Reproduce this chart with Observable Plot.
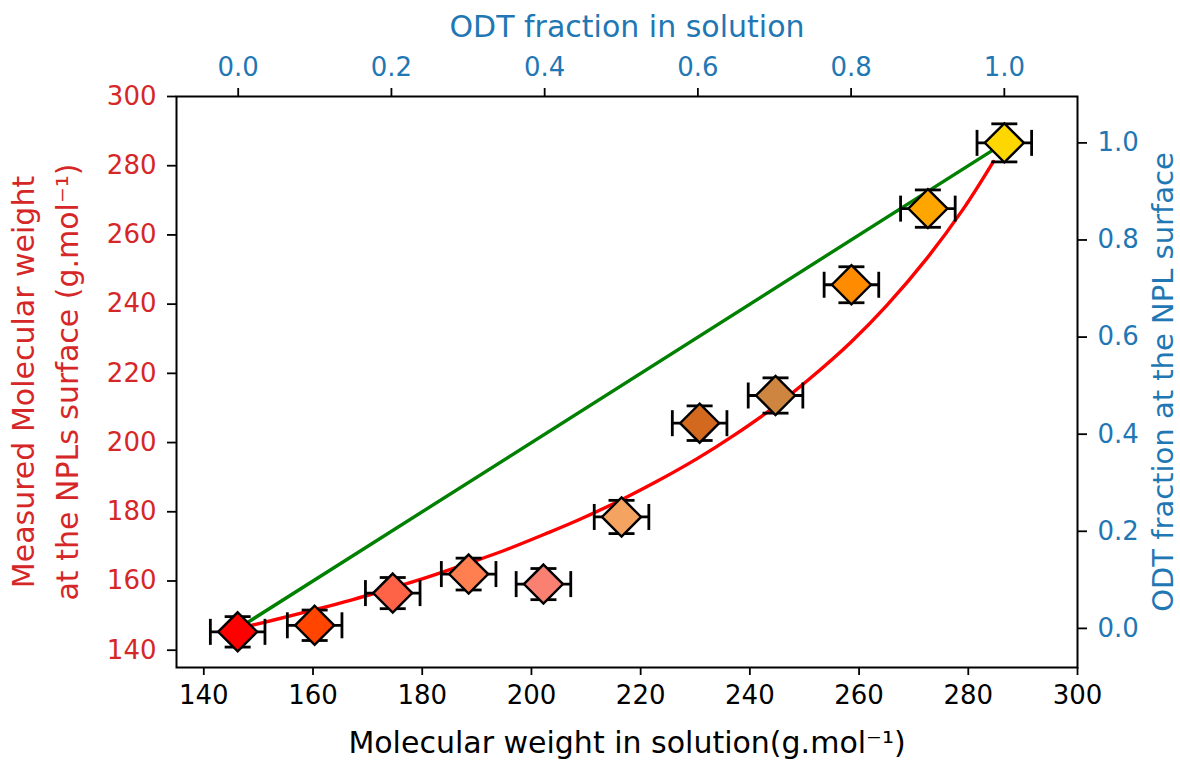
<!DOCTYPE html>
<html>
<head>
<meta charset="utf-8">
<script src="https://cdn.jsdelivr.net/npm/d3@7"></script>
<script src="https://cdn.jsdelivr.net/npm/@observablehq/plot@0.6"></script>
<style>
  html, body { margin: 0; padding: 0; background: #ffffff; }
  #chart { width: 1180px; height: 765px; }
</style>
</head>
<body>
<div id="chart"></div>
<script>
// ---- data ----
const odtFraction = [0.0, 0.1, 0.2, 0.3, 0.4, 0.5, 0.6, 0.7, 0.8, 0.9, 1.0];
const mwSolution  = [146.2, 160.3, 174.6, 188.5, 202.2, 216.5, 230.8, 244.7, 258.6, 272.6, 286.6];
const mwSurface   = [145.3, 147.2, 156.5, 162.0, 159.1, 178.5, 205.6, 213.6, 245.6, 267.6, 286.6];
const xErr        = [5.0, 5.0, 5.0, 5.0, 5.0, 5.0, 5.0, 5.0, 5.0, 5.0, 5.0];
const yErr        = [4.4, 4.4, 4.5, 4.6, 4.5, 4.8, 5.0, 5.1, 5.2, 5.4, 5.5];
const markerColors = ["#ff0000", "#ff4500", "#ff6347", "#ff7f50", "#fa8072", "#f4a460",
                      "#d2691e", "#cd853f", "#ff8c00", "#ffa500", "#ffd700"];

// red fitted curve
const fitX = [147.5, 153, 160.3, 167, 174.4, 181, 188.4, 195, 202.4, 209, 216.5,
              223, 230.5, 237, 244.5, 251, 258.5, 265, 272.6, 279, 284.6];
const fitY = [146.7, 148.8, 151.7, 154.5, 157.9, 161.1, 165.1, 168.8, 173.5, 177.9, 183.5,
              188.8, 195.5, 202.0, 210.3, 218.5, 229.0, 239.5, 253.6, 267.3, 281.2];

// green y = x reference line
const idealX = [146.3, 286.6];
const idealY = [146.3, 286.6];

// axes
const bottomTicks = [140, 160, 180, 200, 220, 240, 260, 280, 300];
const leftTicks   = [140, 160, 180, 200, 220, 240, 260, 280, 300];
const topTicks    = [0.0, 0.2, 0.4, 0.6, 0.8, 1.0];
const rightTicks  = [0.0, 0.2, 0.4, 0.6, 0.8, 1.0];
const MW_OT  = 146.3;   // fraction 0 on secondary axes
const MW_ODT = 286.6;   // fraction 1 on secondary axes

const xTitle = "Molecular weight in solution(g.mol\u207B\u00B9)";
const yTitle1 = "Measured Molecular weight";
const yTitle2 = "at the NPLs surface (g.mol\u207B\u00B9)";
const topTitle = "ODT fraction in solution";
const rightTitle = "ODT fraction at the NPL surface";

// ---- build ----
const RED_TXT = "#d62728";
const BLUE_TXT = "#1f77b4";
const FONT = "DejaVu Sans";
const TICK_FS = 26;
const TITLE_FS = 30;

const points = odtFraction.map((f, i) => ({
  f, x: mwSolution[i], y: mwSurface[i], xe: xErr[i], ye: yErr[i], color: markerColors[i]
}));
const fit = fitX.map((x, i) => ({x, y: fitY[i]}));
const ideal = idealX.map((x, i) => ({x, y: idealY[i]}));
const toMW = f => MW_OT + f * (MW_ODT - MW_OT);
const toFrac = v => ((v - MW_OT) / (MW_ODT - MW_OT));

const capV = {draw(ctx) { ctx.moveTo(0, -13); ctx.lineTo(0, 13); }};
const capH = {draw(ctx) { ctx.moveTo(-13, 0); ctx.lineTo(13, 0); }};

const chart = Plot.plot({
  width: 1180,
  height: 765,
  marginLeft: 176,
  marginRight: 103,
  marginTop: 96,
  marginBottom: 98,
  style: {fontFamily: FONT, fontSize: TICK_FS + "px", background: "#ffffff", overflow: "visible"},
  x: {domain: [135, 300]},
  y: {domain: [135, 300]},
  color: {type: "identity"},
  marks: [
    // bottom axis
    Plot.axisX(bottomTicks, {anchor: "bottom", tickSize: 8, tickPadding: 10, stroke: "black",
      strokeWidth: 1.8, fill: "black", fontSize: TICK_FS, label: null, tickFormat: d => String(d)}),
    // left axis
    Plot.axisY(leftTicks, {anchor: "left", tickSize: 9, tickPadding: 11, stroke: "black",
      strokeWidth: 1.8, fill: RED_TXT, fontSize: TICK_FS, label: null, tickFormat: d => String(d)}),
    // top axis (ODT fraction in solution)
    Plot.axisX(topTicks.map(toMW), {anchor: "top", tickSize: 9, tickPadding: 12, stroke: "black",
      strokeWidth: 1.8, fill: BLUE_TXT, fontSize: TICK_FS, label: null,
      tickFormat: v => toFrac(v).toFixed(1)}),
    // right axis (ODT fraction at the NPL surface)
    Plot.axisY(rightTicks.map(toMW), {anchor: "right", tickSize: 9, tickPadding: 11, stroke: "black",
      strokeWidth: 1.8, fill: BLUE_TXT, fontSize: TICK_FS, label: null,
      tickFormat: v => toFrac(v).toFixed(1)}),
    Plot.frame({stroke: "black", strokeWidth: 2}),

    // lines
    Plot.line(ideal, {x: "x", y: "y", stroke: "#008000", strokeWidth: 3.4}),
    Plot.line(fit, {x: "x", y: "y", stroke: "#ff0000", strokeWidth: 3.4, curve: "catmull-rom"}),

    // error bars
    Plot.link(points, {x1: d => d.x - d.xe, x2: d => d.x + d.xe, y1: "y", y2: "y",
      stroke: "black", strokeWidth: 2.8}),
    Plot.link(points, {x1: "x", x2: "x", y1: d => d.y - d.ye, y2: d => d.y + d.ye,
      stroke: "black", strokeWidth: 2.8}),
    Plot.dot(points, {x: d => d.x - d.xe, y: "y", symbol: capV, r: 5, fill: "none", stroke: "black", strokeWidth: 2.8}),
    Plot.dot(points, {x: d => d.x + d.xe, y: "y", symbol: capV, r: 5, fill: "none", stroke: "black", strokeWidth: 2.8}),
    Plot.dot(points, {x: "x", y: d => d.y - d.ye, symbol: capH, r: 5, fill: "none", stroke: "black", strokeWidth: 2.8}),
    Plot.dot(points, {x: "x", y: d => d.y + d.ye, symbol: capH, r: 5, fill: "none", stroke: "black", strokeWidth: 2.8}),

    // diamond markers
    Plot.dot(points, {x: "x", y: "y", symbol: "diamond2", r: 17.6, fill: "color",
      stroke: "black", strokeWidth: 2.4}),

    // axis titles
    Plot.text([xTitle], {text: d => d, frameAnchor: "bottom", dy: 76, fontSize: TITLE_FS,
      fill: "black", textAnchor: "middle", lineAnchor: "middle"}),
    Plot.text([topTitle], {text: d => d, frameAnchor: "top", dy: -69, fontSize: TITLE_FS,
      fill: BLUE_TXT, textAnchor: "middle", lineAnchor: "middle"}),
    Plot.text([yTitle1], {text: d => d, frameAnchor: "left", dx: -152, rotate: -90,
      fontSize: TITLE_FS, fill: RED_TXT, textAnchor: "middle", lineAnchor: "middle"}),
    Plot.text([yTitle2], {text: d => d, frameAnchor: "left", dx: -108, rotate: -90,
      fontSize: TITLE_FS, fill: RED_TXT, textAnchor: "middle", lineAnchor: "middle"}),
    Plot.text([rightTitle], {text: d => d, frameAnchor: "right", dx: 86, rotate: -90,
      fontSize: 29, fill: BLUE_TXT, textAnchor: "middle", lineAnchor: "middle"})
  ]
});
document.getElementById("chart").appendChild(chart);
</script>
</body>
</html>
